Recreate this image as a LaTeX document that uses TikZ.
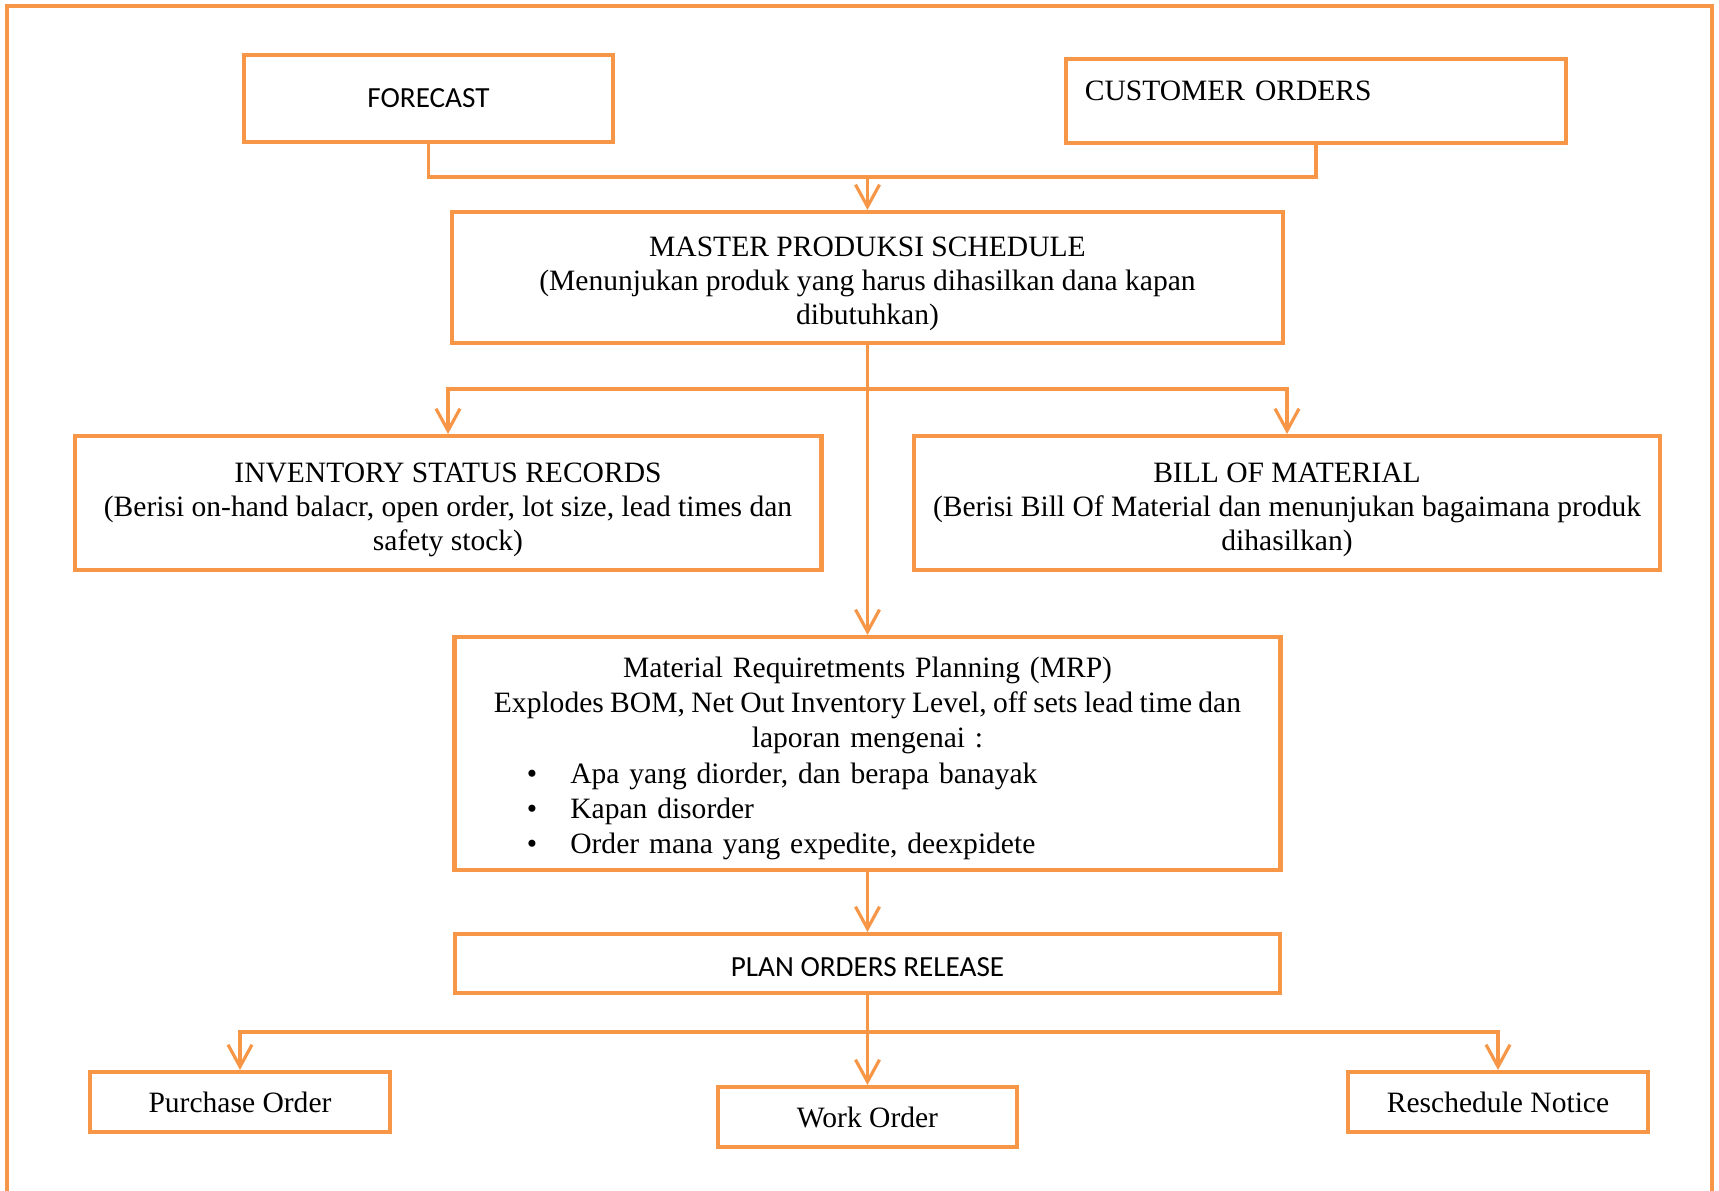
\documentclass[tikz,border=0pt]{standalone}
\usepackage{fontspec}
\setmainfont{Liberation Serif}
\newfontfamily\calibrifont{Carlito}
\usepackage{xcolor}
\usepackage{tikz}
\usetikzlibrary{positioning,arrows.meta}
\definecolor{mrporange}{HTML}{F79646}
\newcommand{\bulitem}[1]{\makebox[8cm][l]{\hspace*{0.595cm}\makebox[0.435cm][l]{\textbullet}#1}}
\newcommand{\topgap}[1]{\rule{0pt}{#1}}

\begin{document}
\begin{tikzpicture}[
  x=0.01cm, y=-0.01cm,
  box/.style={draw=mrporange, line width=1.15pt, inner sep=0pt, align=center, font=\fontsize{8.4}{9.7}\selectfont},
  sansbox/.style={box, font=\calibrifont\fontsize{8.3}{9.9}\selectfont},
  link/.style={draw=mrporange, line width=0.9pt},
  arr/.style={link, -{Straight Barb[length=2.2mm, width=2.4mm, line width=0.9pt]}},
]
\useasboundingbox (0,0) rectangle (1719,1190);
% outer frame
\draw[mrporange, line width=1.2pt] (7,1195) -- (7,6) -- (1712,6) -- (1712,1195);

% inputs
\node[sansbox, minimum width=3.69cm, minimum height=0.87cm] (fc) at (428.5,98.5) {FORECAST};
\node[box, align=left, text width=4.62cm, inner xsep=0.19cm, text height=0.41cm, text depth=0.43cm] (co) at (1316,101) {CUSTOMER ORDERS};
\coordinate (jn1) at (867.5,177);
\draw[link] (fc.south) |- (jn1) -| (co.south);

% master schedule
\node[box, minimum width=8.31cm, minimum height=1.31cm] (mps) at (867.5,277.5) {\topgap{9.3pt}MASTER PRODUKSI SCHEDULE\\(Menunjukan produk yang harus dihasilkan dana kapan\\dibutuhkan)};
\draw[arr] (jn1) -- (mps.north);

% records
\node[box, minimum width=7.465cm, minimum height=1.34cm] (inv) at (448,503) {\topgap{9.3pt}INVENTORY STATUS RECORDS\\(Berisi on-hand balacr, open order, lot size, lead times dan\\safety stock)};
\node[box, minimum width=7.46cm, minimum height=1.34cm] (bom) at (1287,503) {\topgap{9.3pt}BILL OF MATERIAL\\(Berisi Bill Of Material dan menunjukan bagaimana produk\\dihasilkan)};
\coordinate (jn2) at (867.5,389);
\draw[arr] (jn2) -| (inv.north);
\draw[arr] (jn2) -| (bom.north);

% MRP
\node[box, minimum width=8.255cm, minimum height=2.33cm, text width=8cm, font=\fontsize{8.4}{10}\selectfont] (mrp) at (867.5,753.5) {\topgap{8.6pt}Material Requiretments Planning (MRP)\\{\spaceskip=0.215em Explodes BOM, Net Out Inventory Level, off sets lead time dan}\\laporan mengenai :\\\bulitem{Apa yang diorder, dan berapa banayak}\\\bulitem{Kapan disorder}\\\bulitem{Order mana yang expedite, deexpidete}};
\draw[arr] (mps.south) -- (mrp.north);

% release
\node[sansbox, minimum width=8.24cm, minimum height=0.59cm] (plan) at (867.5,963.5) {\topgap{7.2pt}PLAN ORDERS RELEASE};
\draw[arr] (mrp.south) -- (plan.north);

% outputs
\node[box, minimum width=3cm, minimum height=0.6cm] (po) at (240,1102) {Purchase Order};
\node[box, minimum width=2.99cm, minimum height=0.6cm] (wo) at (867.5,1117) {Work Order};
\node[box, minimum width=3cm, minimum height=0.6cm] (rn) at (1498,1102) {Reschedule Notice};
\coordinate (jn3) at (867.5,1032);
\draw[arr] (plan.south) -- (wo.north);
\draw[arr] (jn3) -| (po.north);
\draw[arr] (jn3) -| (rn.north);
\end{tikzpicture}
\end{document}
